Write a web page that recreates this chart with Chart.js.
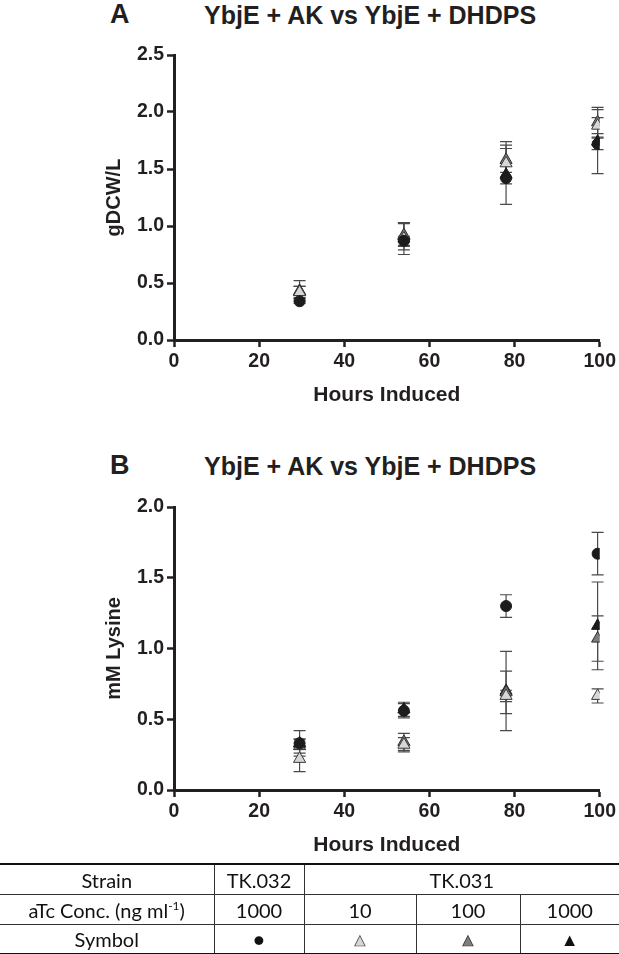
<!DOCTYPE html>
<html>
<head>
<meta charset="utf-8">
<script src="https://cdn.jsdelivr.net/npm/chart.js@4/dist/chart.umd.min.js"></script>
<style>
  html, body { margin:0; padding:0; background:#fff; }
  body { width:619px; height:954px; position:relative; overflow:hidden; font-family:'Liberation Sans', Arial, sans-serif; color:#231f20; }
  .ttl { position:absolute; font-weight:bold; font-size:25px; white-space:nowrap; line-height:1; }
  .pl { position:absolute; font-weight:bold; font-size:27px; line-height:1; }
  canvas { position:absolute; left:0; }
  table { position:absolute; left:0; top:863px; width:619px; border-collapse:collapse; font-family:Lato, 'Open Sans', sans-serif; font-size:20px; color:#111; z-index:2; table-layout:fixed; }
  table { border-top:2px solid #111; border-bottom:2px solid #111; }
  td { text-align:center; height:29px; padding:0; border-bottom:1px solid #333; border-right:1px solid #333; white-space:nowrap; }
  td:last-child { border-right:none; }
  tr:last-child td { border-bottom:none; height:28px; }
  sup { font-size:12px; line-height:0; }
  .sym { font-size:18px; line-height:1; }
</style>
</head>
<body>
<div class="pl" style="left:110px;top:1px;">A</div>
<div class="ttl" style="left:204px;top:3px;">YbjE + AK vs YbjE + DHDPS</div>
<div class="pl" style="left:110px;top:452px;">B</div>
<div class="ttl" style="left:204px;top:454px;">YbjE + AK vs YbjE + DHDPS</div>

<canvas id="cA" width="619" height="420" style="top:0px;width:619px;height:420px;"></canvas>
<canvas id="cB" width="619" height="425" style="top:440px;width:619px;height:425px;"></canvas>

<table>
  <colgroup><col style="width:214px"><col style="width:90px"><col style="width:112px"><col style="width:104px"><col style="width:99px"></colgroup>
  <tr><td>Strain</td><td>TK.032</td><td colspan="3">TK.031</td></tr>
  <tr><td>aTc Conc. (ng ml<sup>-1</sup>)</td><td>1000</td><td>10</td><td>100</td><td>1000</td></tr>
  <tr><td>Symbol</td>
      <td class="sym" style="color:#111;">●</td>
      <td class="sym" style="color:#d6d6d6;-webkit-text-stroke:0.7px #444;">▲</td>
      <td class="sym" style="color:#7d7d7d;-webkit-text-stroke:0.7px #333;">▲</td>
      <td class="sym" style="color:#111;">▲</td></tr>
</table>

<script>
// ---- data ----
const hours = [29.5, 54, 78, 99.5];
const seriesNames = ['TK.032 1000', 'TK.031 10', 'TK.031 100', 'TK.031 1000'];

// Panel A: gDCW/L
const dcwCircle1000 = [0.34, 0.87, 1.42, 1.72];
const dcwLight10    = [0.42, 0.89, 1.55, 1.88];
const dcwGray100    = [0.42, 0.92, 1.58, 1.91];
const dcwBlack1000  = [0.43, 0.91, 1.45, 1.74];
const dcwErrCircle  = [0.02, 0.04, 0.05, 0.05];
const dcwErrLight   = [0.05, 0.14, 0.13, 0.07];
const dcwErrGray    = [0.05, 0.10, 0.16, 0.13];
const dcwErrBlack   = [0.09, 0.12, 0.26, 0.28];

// Panel B: mM Lysine
const lysCircle1000 = [0.33, 0.56, 1.30, 1.67];
const lysLight10    = [0.22, 0.32, 0.665, 0.665];
const lysGray100    = [0.31, 0.34, 0.69, 1.07];
const lysBlack1000  = [0.33, 0.57, 0.70, 1.16];
const lysErrCircle  = [0.03, 0.05, 0.08, 0.15];
const lysErrLight   = [0.09, 0.05, 0.04, 0.05];
const lysErrGray    = [0.05, 0.06, 0.15, 0.16];
const lysErrBlack   = [0.09, 0.05, 0.28, 0.31];

const xTicks = [0, 20, 40, 60, 80, 100];

// ---- styles ----
const INK = '#231f20';
const styles = [
  { pointStyle:'circle',   radius:5.5, bg:'#1c1c1c', border:'#1c1c1c' },
  { pointStyle:'triangle', radius:7,   bg:'#d6d6d6', border:'#3a3a3a' },
  { pointStyle:'triangle', radius:7,   bg:'#7d7d7d', border:'#2e2e2e' },
  { pointStyle:'triangle', radius:7,   bg:'#1c1c1c', border:'#1c1c1c' }
];

const errorBars = {
  id: 'errorBars',
  beforeDatasetsDraw(chart) {
    const { ctx, scales: { x, y } } = chart;
    ctx.save();
    ctx.strokeStyle = '#4a4a4a';
    ctx.lineWidth = 1.2;
    chart.data.datasets.forEach(ds => {
      ds.err.forEach((e, i) => {
        const px = x.getPixelForValue(ds.data[i].x);
        const t = y.getPixelForValue(ds.data[i].y + e);
        const b = y.getPixelForValue(ds.data[i].y - e);
        const w = 6;
        ctx.beginPath();
        ctx.moveTo(px, t); ctx.lineTo(px, b);
        ctx.moveTo(px - w, t); ctx.lineTo(px + w, t);
        ctx.moveTo(px - w, b); ctx.lineTo(px + w, b);
        ctx.stroke();
      });
    });
    ctx.restore();
  }
};

function makeChart(id, vals, errs, yMax, yTitle, pad, xHeight) {
  const datasets = vals.map((v, k) => ({
    label: seriesNames[k],
    data: hours.map((h, i) => ({ x: h, y: v[i] })),
    err: errs[k],
    pointStyle: styles[k].pointStyle,
    pointRadius: styles[k].radius,
    pointBackgroundColor: styles[k].bg,
    pointBorderColor: styles[k].border,
    pointBorderWidth: 1,
    showLine: false
  }));
  return new Chart(document.getElementById(id), {
    type: 'scatter',
    data: { datasets },
    plugins: [errorBars],
    options: {
      responsive: false,
      animation: false,
      layout: { padding: pad },
      plugins: { legend: { display: false }, tooltip: { enabled: false } },
      scales: {
        x: {
          type: 'linear', min: 0, max: 100,
          afterBuildTicks: s => { s.ticks = xTicks.map(v => ({ value: v })); },
          afterFit: s => { s.height = xHeight; },
          ticks: { color: INK, font: { family: 'Liberation Sans', size: 19.5, weight: 'bold' }, padding: 3 },
          grid: { display: true, drawOnChartArea: false, drawTicks: true, tickLength: 7, tickWidth: 2.5, tickColor: INK },
          border: { display: true, width: 3, color: INK },
          title: { display: true, text: 'Hours Induced', color: INK, font: { family: 'Liberation Sans', size: 21, weight: 'bold' }, padding: { top: 4, bottom: 4 } }
        },
        y: {
          type: 'linear', min: 0, max: yMax,
          afterFit: s => { s.width = 76; },
          ticks: { stepSize: 0.5, color: INK, font: { family: 'Liberation Sans', size: 19.5, weight: 'bold' }, padding: 3, callback: v => v.toFixed(1) },
          grid: { display: true, drawOnChartArea: false, drawTicks: true, tickLength: 7, tickWidth: 2.5, tickColor: INK },
          border: { display: true, width: 3, color: INK },
          title: { display: true, text: yTitle, color: INK, font: { family: 'Liberation Sans', size: 20, weight: 'bold' }, padding: { top: 4, bottom: 4 } }
        }
      }
    }
  });
}

makeChart('cA',
  [dcwCircle1000, dcwLight10, dcwGray100, dcwBlack1000],
  [dcwErrCircle, dcwErrLight, dcwErrGray, dcwErrBlack],
  2.5, 'gDCW/L', { top: 55, left: 98, right: 18, bottom: 8 }, 72);

makeChart('cB',
  [lysCircle1000, lysLight10, lysGray100, lysBlack1000],
  [lysErrCircle, lysErrLight, lysErrGray, lysErrBlack],
  2.0, 'mM Lysine', { top: 67, left: 98, right: 18, bottom: 3 }, 72);
</script>
</body>
</html>
